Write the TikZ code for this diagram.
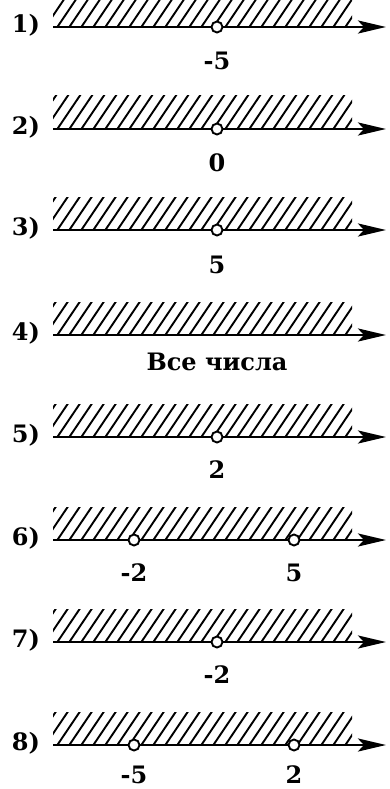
\documentclass[tikz,border=0pt]{standalone}
\usepackage{fontspec}
\setmainfont{DejaVu Serif}
\usetikzlibrary{arrows.meta}
\newcommand\hatchband[2]{%
  \begin{scope}
    \clip (53,#2) rectangle (352,#1);
    \foreach \hx in {20,32,...,362} {\draw[hatchline] (\hx,#1+2) -- ++(25,-37);}
  \end{scope}}
\begin{document}
\begin{tikzpicture}[x=1pt,y=-1pt,
  axisline/.style={line width=2.8pt,-{Stealth[length=28pt,width=13pt,inset=6pt]}},
  hatchline/.style={line width=1.9pt},
  hole/.style={circle,draw,fill=white,line width=1.9pt,minimum size=11pt,inner sep=0pt},
  numlabel/.style={font=\bfseries\fontsize{24}{30}\selectfont,inner sep=0pt,anchor=base},
  rowlabel/.style={font=\bfseries\fontsize{24}{30}\selectfont,inner sep=0pt}]
\useasboundingbox (0,0) rectangle (389,789);
% row 1
\hatchband{27}{0}
\coordinate (s1) at (53,27); \coordinate (e1) at (386,27);
\draw[axisline] (s1) -- (e1);
\node[hole] (h1) at (217,27) {};
\node[numlabel] (l1) at (217,70) {-5};
\node[rowlabel] (r1) at (26,25) {1)};
% row 2
\hatchband{129}{96}
\coordinate (s2) at (53,129); \coordinate (e2) at (386,129);
\draw[axisline] (s2) -- (e2);
\node[hole] (h2) at (217,129) {};
\node[numlabel] (l2) at (217,171) {0};
\node[rowlabel] (r2) at (26,127) {2)};
% row 3
\hatchband{230}{197}
\coordinate (s3) at (53,230); \coordinate (e3) at (386,230);
\draw[axisline] (s3) -- (e3);
\node[hole] (h3) at (217,230) {};
\node[numlabel] (l3) at (217,273) {5};
\node[rowlabel] (r3) at (26,228) {3)};
% row 4
\hatchband{335}{302}
\coordinate (s4) at (53,335); \coordinate (e4) at (386,335);
\draw[axisline] (s4) -- (e4);
\node[numlabel] (l4) at (217,370) {Все числа};
\node[rowlabel] (r4) at (26,333) {4)};
% row 5
\hatchband{437}{404}
\coordinate (s5) at (53,437); \coordinate (e5) at (386,437);
\draw[axisline] (s5) -- (e5);
\node[hole] (h5) at (217,437) {};
\node[numlabel] (l5) at (217,478) {2};
\node[rowlabel] (r5) at (26,435) {5)};
% row 6
\hatchband{540}{507}
\coordinate (s6) at (53,540); \coordinate (e6) at (386,540);
\draw[axisline] (s6) -- (e6);
\node[hole] (h6a) at (134,540) {};
\node[hole] (h6b) at (294,540) {};
\node[numlabel] (l6a) at (134,581) {-2};
\node[numlabel] (l6b) at (294,581) {5};
\node[rowlabel] (r6) at (26,538) {6)};
% row 7
\hatchband{642}{609}
\coordinate (s7) at (53,642); \coordinate (e7) at (386,642);
\draw[axisline] (s7) -- (e7);
\node[hole] (h7) at (217,642) {};
\node[numlabel] (l7) at (217,683) {-2};
\node[rowlabel] (r7) at (26,640) {7)};
% row 8
\hatchband{745}{712}
\coordinate (s8) at (53,745); \coordinate (e8) at (386,745);
\draw[axisline] (s8) -- (e8);
\node[hole] (h8a) at (134,745) {};
\node[hole] (h8b) at (294,745) {};
\node[numlabel] (l8a) at (134,783) {-5};
\node[numlabel] (l8b) at (294,783) {2};
\node[rowlabel] (r8) at (26,743) {8)};
\end{tikzpicture}
\end{document}
